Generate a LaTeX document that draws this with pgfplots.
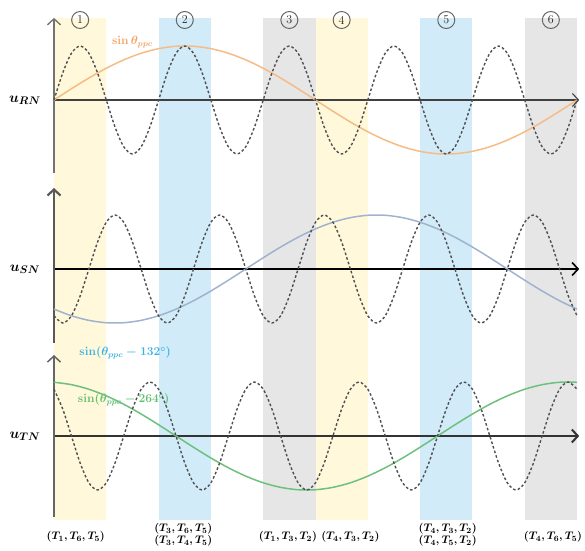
\documentclass[border=0pt]{standalone}
\usepackage{pgfplots}
\pgfplotsset{compat=1.18}
\usepackage{pgfplotstable}
\usetikzlibrary{arrows.meta}
\definecolor{bandY}{HTML}{FFF8DA}
\definecolor{bandB}{HTML}{D2EBF8}
\definecolor{bandG}{HTML}{E6E6E6}
\definecolor{cOr}{HTML}{F5BC86}
\definecolor{cBl}{HTML}{9FB3CF}
\definecolor{cGr}{HTML}{6EC07E}
\definecolor{lOr}{HTML}{F2A460}
\definecolor{lCy}{HTML}{36B3E6}
\definecolor{lGr}{HTML}{5CBF6B}
\definecolor{dsh}{HTML}{505050}

\pgfplotstableread{
th d1 d2 d3
0 0 -0.866 0.866
6 0.5 -1 0.5
12 0.866 -0.866 0
18 1 -0.5 -0.5
24 0.866 0 -0.866
30 0.5 0.5 -1
36 0 0.866 -0.866
42 -0.5 1 -0.5
48 -0.866 0.866 0
54 -1 0.5 0.5
60 -0.866 0 0.866
66 -0.5 -0.5 1
72 0 -0.866 0.866
78 0.5 -1 0.5
84 0.866 -0.866 0
90 1 -0.5 -0.5
96 0.866 0 -0.866
102 0.5 0.5 -1
108 0 0.866 -0.866
114 -0.5 1 -0.5
120 -0.866 0.866 0
126 -1 0.5 0.5
132 -0.866 0 0.866
138 -0.5 -0.5 1
144 0 -0.866 0.866
150 0.5 -1 0.5
156 0.866 -0.866 0
162 1 -0.5 -0.5
168 0.866 0 -0.866
174 0.5 0.5 -1
180 0 0.866 -0.866
186 -0.5 1 -0.5
192 -0.866 0.866 0
198 -1 0.5 0.5
204 -0.866 0 0.866
210 -0.5 -0.5 1
216 0 -0.866 0.866
222 0.5 -1 0.5
228 0.866 -0.866 0
234 1 -0.5 -0.5
240 0.866 0 -0.866
246 0.5 0.5 -1
252 0 0.866 -0.866
258 -0.5 1 -0.5
264 -0.866 0.866 0
270 -1 0.5 0.5
276 -0.866 0 0.866
282 -0.5 -0.5 1
288 0 -0.866 0.866
294 0.5 -1 0.5
300 0.866 -0.866 0
306 1 -0.5 -0.5
312 0.866 0 -0.866
318 0.5 0.5 -1
324 0 0.866 -0.866
330 -0.5 1 -0.5
336 -0.866 0.866 0
342 -1 0.5 0.5
348 -0.866 0 0.866
354 -0.5 -0.5 1
360 0 -0.866 0.866
}\fast

\pgfplotstableread{
th s1 s2 s3
0 0 -0.743 0.995
12 0.208 -0.866 0.951
24 0.407 -0.951 0.866
36 0.588 -0.995 0.743
48 0.743 -0.995 0.588
60 0.866 -0.951 0.407
72 0.951 -0.866 0.208
84 0.995 -0.743 0
96 0.995 -0.588 -0.208
108 0.951 -0.407 -0.407
120 0.866 -0.208 -0.588
132 0.743 0 -0.743
144 0.588 0.208 -0.866
156 0.407 0.407 -0.951
168 0.208 0.588 -0.995
180 0 0.743 -0.995
192 -0.208 0.866 -0.951
204 -0.407 0.951 -0.866
216 -0.588 0.995 -0.743
228 -0.743 0.995 -0.588
240 -0.866 0.951 -0.407
252 -0.951 0.866 -0.208
264 -0.995 0.743 0
276 -0.995 0.588 0.208
288 -0.951 0.407 0.407
300 -0.866 0.208 0.588
312 -0.743 0 0.743
324 -0.588 -0.208 0.866
336 -0.407 -0.407 0.951
348 -0.208 -0.588 0.995
360 0 -0.743 0.995
}\slow

\tikzset{arr/.style={-{Straight Barb[length=6pt,width=13pt]}},
  dashc/.style={dsh, line width=1.4pt, dash pattern=on 2.6pt off 2.2pt, smooth}}
\pgfplotsset{
  panel/.style={x=1.4528pt, y=54pt, xmin=0, xmax=361.5,
    axis lines=middle, xtick=\empty, ytick=\empty, clip=false,
    anchor=origin},
}
\newcommand{\lab}{\fontsize{11}{13}\selectfont\boldmath}

\begin{document}
\begin{tikzpicture}[x=1pt,y=1pt]
\useasboundingbox (0,0) rectangle (585,550);
% background bands
\begin{axis}[at={(54pt,30pt)}, anchor=south west, x=1.4528pt, y=1pt,
  xmin=0, xmax=360, ymin=30, ymax=532, hide axis, clip=false]
\addplot[fill=bandY, draw=none] coordinates {(0,30) (36,30) (36,532) (0,532)} -- cycle;
\addplot[fill=bandB, draw=none] coordinates {(72,30) (108,30) (108,532) (72,532)} -- cycle;
\addplot[fill=bandG, draw=none] coordinates {(144,30) (180,30) (180,532) (144,532)} -- cycle;
\addplot[fill=bandY, draw=none] coordinates {(180,30) (216,30) (216,532) (180,532)} -- cycle;
\addplot[fill=bandB, draw=none] coordinates {(252,30) (288,30) (288,532) (252,532)} -- cycle;
\addplot[fill=bandG, draw=none] coordinates {(324,30) (360,30) (360,532) (324,532)} -- cycle;
\foreach \xx/\nn in {18/1, 90/2, 162/3, 198/4, 270/5, 342/6}{
  \edef\tmp{\noexpand\node[circle, draw=gray!80!black, line width=1pt, minimum size=17pt, inner sep=0pt, text=gray!30!black, font=\noexpand\fontsize{12}{14}\noexpand\selectfont] at (axis cs:\xx,530) {\nn};}
  \tmp
}
\node[font=\lab] at (axis cs:15,13) {$(T_1, T_6, T_5)$};
\node[font=\lab, align=center] at (axis cs:89,15) {$(T_3, T_6, T_5)$\\[-1pt]$(T_3, T_4, T_5)$};
\node[font=\lab] at (axis cs:161,13) {$(T_1, T_3, T_2)$};
\node[font=\lab] at (axis cs:204,13) {$(T_4, T_3, T_2)$};
\node[font=\lab, align=center] at (axis cs:271,15) {$(T_4, T_3, T_2)$\\[-1pt]$(T_4, T_5, T_2)$};
\node[font=\lab] at (axis cs:343.5,13) {$(T_4, T_6, T_5)$};
\node[font=\fontsize{12}{14}\selectfont\boldmath, text=lCy] at (axis cs:49,197) {$\sin(\theta_{ppc}-132^{\circ})$};
\node[font=\fontsize{12}{14}\selectfont\boldmath, text=lGr] at (axis cs:48,150) {$\sin(\theta_{ppc}-264^{\circ})$};
\end{axis}

% panel 1: u_RN
\begin{axis}[panel, at={(54pt,450pt)}, ymin=-1.35, ymax=1.52,
  x axis line style={arr, line width=1.1pt, black!75},
  y axis line style={arr, line width=1.3pt, black!55}]
\addplot[cOr, line width=1.5pt, smooth] table[x=th, y=s1] {\slow};
\addplot[dashc] table[x=th, y=d1] {\fast};
\node[font=\fontsize{12}{14}\selectfont\boldmath, text=lOr] at (axis cs:54,1.07) {$\sin\theta_{ppc}$};
\node[font=\fontsize{15}{17}\selectfont\boldmath] at (axis cs:-20,0) {$u_{RN}$};
\end{axis}

% panel 2: u_SN
\begin{axis}[panel, at={(54pt,281pt)}, ymin=-1.37, ymax=1.5,
  x axis line style={arr, line width=1.6pt, black},
  y axis line style={arr, line width=2.2pt, black!65}]
\addplot[cBl, line width=1.5pt, smooth] table[x=th, y=s2] {\slow};
\addplot[dashc] table[x=th, y=d2] {\fast};
\node[font=\fontsize{15}{17}\selectfont\boldmath] at (axis cs:-20,0) {$u_{SN}$};
\end{axis}

% panel 3: u_TN
\begin{axis}[panel, at={(54pt,114pt)}, ymin=-1.5, ymax=1.5,
  x axis line style={arr, line width=2pt, black!80},
  y axis line style={arr, line width=1.5pt, black!60}]
\addplot[cGr, line width=1.5pt, smooth] table[x=th, y=s3] {\slow};
\addplot[dashc] table[x=th, y=d3] {\fast};
\node[font=\fontsize{15}{17}\selectfont\boldmath] at (axis cs:-20,0) {$u_{TN}$};
\end{axis}
\end{tikzpicture}
\end{document}
